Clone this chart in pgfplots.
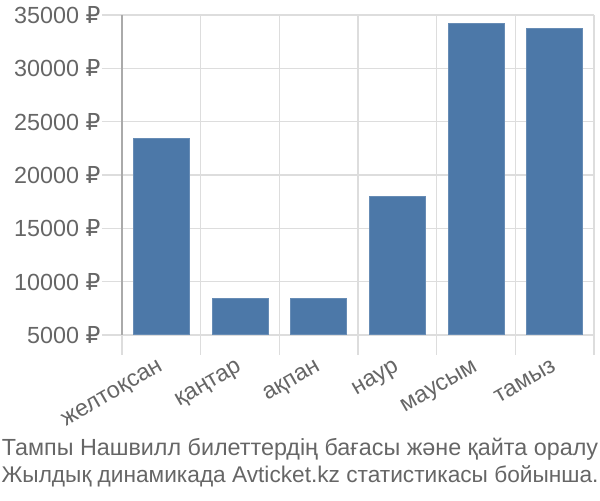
\documentclass[border=0pt]{standalone}
\usepackage{fontspec}
\setmainfont{Liberation Sans}
\newfontfamily\rubfont{DejaVu Sans}
\usepackage{pgfplots}
\pgfplotsset{compat=1.18}
\definecolor{barblue}{HTML}{4C78A8}
\definecolor{gridgray}{HTML}{DDDDDD}
\definecolor{axisgray}{HTML}{AAAAAA}
\definecolor{textgray}{HTML}{666666}
\begin{document}
\begin{tikzpicture}
\path[use as bounding box] (0,0) rectangle (450pt,375pt);
\begin{axis}[
    at={(91.5pt,123.75pt)}, anchor=south west,
    width=354pt, height=240pt, scale only axis,
    xmin=-0.5, xmax=5.5,
    ymin=5000, ymax=35000,
    axis lines=left,
    axis line style={-},
    x axis line style={draw=gridgray, line width=1pt},
    y axis line style={draw=axisgray, line width=1pt},
    xtick={0,...,5},
    xticklabels={желтоқсан, қаңтар, ақпан, наур, маусым, тамыз},
    minor xtick={-0.5,0.5,...,5.5},
    xminorgrids=true,
    ytick={5000,10000,...,35000},
    scaled y ticks=false,
    ymajorgrids=true,
    grid style={draw=gridgray, line width=1pt},
    tick align=outside,
    major tick length=15pt,
    minor tick length=15pt,
    major x tick style={draw=none},
    minor x tick style={draw=gridgray, line width=1pt},
    major y tick style={draw=gridgray, line width=1pt},
    /pgf/number format/assume math mode=true,
    yticklabel={\pgfmathprintnumber[1000 sep={}]{\tick}~{\rubfont ₽}},
    tick label style={font=\fontsize{17.5pt}{19pt}\selectfont, text=textgray},
    xticklabel style={rotate=30, anchor=north east, inner sep=1pt, xshift=-3pt},
    yticklabel style={inner sep=1pt},
    ybar, bar width=42pt,
    clip=true,
]
\addplot[fill=barblue, draw=barblue!85!white, line width=0.75pt] coordinates {
    (0,23400)
    (1,8400)
    (2,8400)
    (3,17950)
    (4,34200)
    (5,33750)
};
\end{axis}
\node[anchor=base, text=textgray, font=\fontsize{17.5pt}{21pt}\selectfont] at (225pt,33.75pt) {Тампы Нашвилл билеттердің бағасы және қайта оралу};
\node[anchor=base, text=textgray, font=\fontsize{17pt}{21pt}\selectfont] at (225pt,12.75pt) {Жылдық динамикада Avticket.kz статистикасы бойынша.};
\end{tikzpicture}
\end{document}
